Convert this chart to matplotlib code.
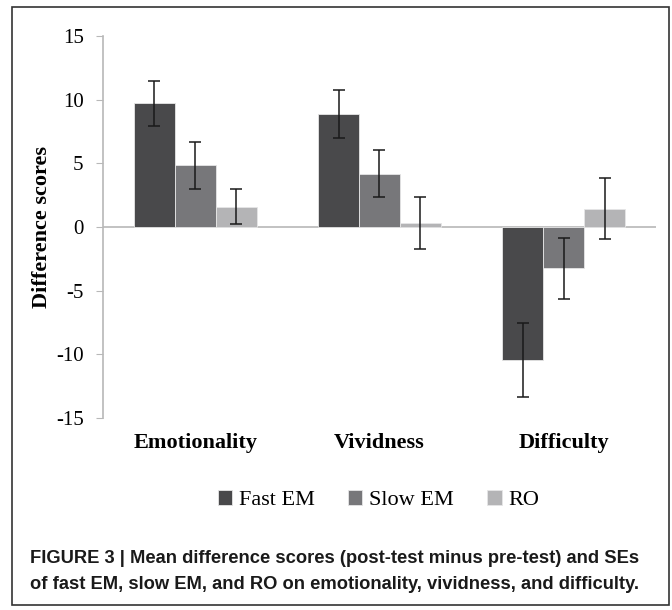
import numpy as np
import matplotlib
matplotlib.use('Agg')
import matplotlib.pyplot as plt
from matplotlib.patches import Rectangle

# Dados
categorias = ['Emotionality', 'Vividness', 'Difficulty']
series = ['Fast EM', 'Slow EM', 'RO']
fast_em = [9.7, 8.85, -10.45]
slow_em = [4.85, 4.2, -3.25]
ro = [1.6, 0.3, 1.45]
fast_se = [1.75, 1.9, 2.9]
slow_se = [1.85, 1.85, 2.4]
ro_se = [1.4, 2.05, 2.4]

cores = ['#49494b', '#77777a', '#b4b4b6']
plt.rcParams['font.family'] = ['Liberation Serif', 'DejaVu Serif']

fig = plt.figure(figsize=(6.72, 6.10), dpi=100)
ax = fig.add_axes([0.1533, 0.3148, 0.8227, 0.6262])

x = np.arange(len(categorias))
w = 0.222
valores = [fast_em, slow_em, ro]
erros = [fast_se, slow_se, ro_se]
for i, (v, e) in enumerate(zip(valores, erros)):
    ax.bar(x + (i - 1) * w, v, width=w, color=cores[i], edgecolor='#e6e6e6',
           linewidth=0.6, label=series[i], zorder=2)
    ax.errorbar(x + (i - 1) * w, v, yerr=e, fmt='none', ecolor='#1a1a1a',
                elinewidth=1.1, capsize=4, capthick=1.1, zorder=3)

ax.axhline(0, color='#b8b8b8', linewidth=1.2, zorder=1)
ax.set_xlim(-0.5, 2.5)
ax.set_ylim(-15, 15)
ax.set_yticks([-15, -10, -5, 0, 5, 10, 15])
ax.set_yticklabels(['-15', '-10', '-5', '0', '5', '10', '15'], fontsize=15)
ax.set_xticks(x)
ax.set_xticklabels(categorias, fontsize=16, fontweight='bold')
ax.tick_params(axis='x', length=0, pad=11)
ax.tick_params(axis='y', length=5, color='#b8b8b8', pad=9)
for s in ['top', 'right', 'bottom']:
    ax.spines[s].set_visible(False)
ax.spines['left'].set_color('#b8b8b8')
ax.spines['left'].set_linewidth(1.2)
ax.set_ylabel('Difference scores', fontsize=16, fontweight='bold', labelpad=3)

leg = fig.legend(loc='center', bbox_to_anchor=(0.563, 0.18), ncol=3, frameon=False,
                 fontsize=16, handlelength=0.65, handleheight=0.65, handletextpad=0.3,
                 columnspacing=1.5)

# Legenda da figura
fig.text(0.045, 0.063, 'FIGURE 3 | Mean difference scores (post-test minus pre-test) and SEs\n'
         'of fast EM, slow EM, and RO on emotionality, vividness, and difficulty.',
         family=['Liberation Sans'], fontweight='bold',
         fontsize=13.2, linespacing=1.75, va='center', ha='left', color='#1a1a1a')

# Moldura
fig.patches.append(Rectangle((0.018, 0.008), 0.978, 0.981, transform=fig.transFigure,
                             fill=False, edgecolor='#333333', linewidth=1.2))

fig.savefig('out.png', dpi=100)
